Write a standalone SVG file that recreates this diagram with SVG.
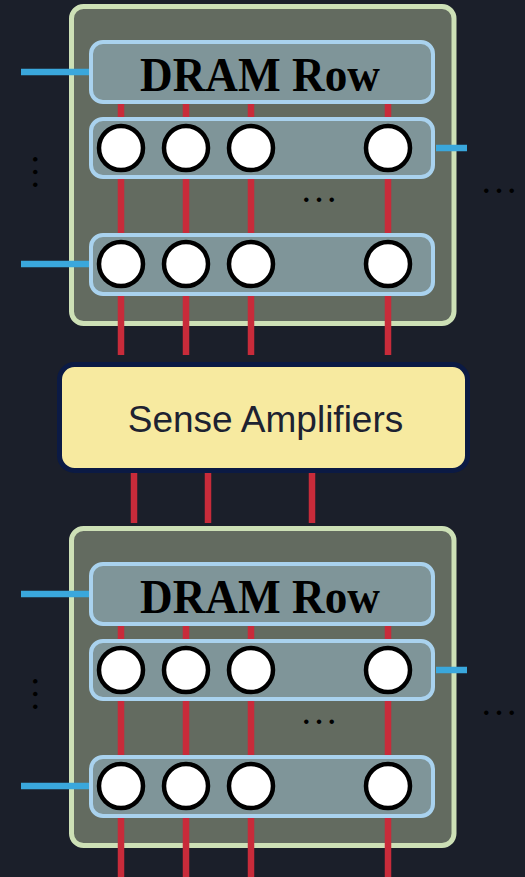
<svg xmlns="http://www.w3.org/2000/svg" width="525" height="877" viewBox="0 0 525 877">
  <style>
    .bank { fill: #636b60; stroke: #cde0b6; stroke-width: 5; }
    .rowbox { fill: #7f9599; stroke: #a9d2ee; stroke-width: 4; }
    .cell { fill: #ffffff; stroke: #000000; stroke-width: 4.5; }
    .bit { stroke: #c82b3a; stroke-width: 6.5; fill: none; }
    .word { stroke: #3aa7dc; stroke-width: 6.5; fill: none; }
    .title { font-family: "Liberation Serif", "Times New Roman", serif; font-weight: bold; font-size: 49px; fill: #000000; }
    .sa-box { fill: #f7eaa0; stroke: #0b1a44; stroke-width: 5; }
    .sa-text { font-family: "Liberation Sans", Arial, sans-serif; font-size: 37px; fill: #1d2231; }
    .dots { font-family: "Liberation Serif", "Times New Roman", serif; font-size: 38px; fill: #000000; }
  </style>
  <rect x="0" y="0" width="525" height="877" fill="#1b1f2a"/>

  <!-- bank outer boxes -->
  <g id="bank-top">
    <rect class="bank" x="71.5" y="6.5" width="382.5" height="317" rx="12"/>
  </g>
  <g id="bank-bottom">
    <rect class="bank" x="71.5" y="528.5" width="382.5" height="317" rx="12"/>
  </g>

  <!-- connectors -->
  <g id="connectors">
    <!-- top bank bitlines -->
    <line class="bit" x1="121" y1="100" x2="121" y2="355"/>
    <line class="bit" x1="186" y1="100" x2="186" y2="355"/>
    <line class="bit" x1="251" y1="100" x2="251" y2="355"/>
    <line class="bit" x1="388" y1="100" x2="388" y2="355"/>
    <!-- sense amp to bottom bank -->
    <line class="bit" x1="134" y1="470" x2="134" y2="523"/>
    <line class="bit" x1="208" y1="470" x2="208" y2="523"/>
    <line class="bit" x1="312" y1="470" x2="312" y2="523"/>
    <!-- bottom bank bitlines -->
    <line class="bit" x1="121" y1="622" x2="121" y2="877"/>
    <line class="bit" x1="186" y1="622" x2="186" y2="877"/>
    <line class="bit" x1="251" y1="622" x2="251" y2="877"/>
    <line class="bit" x1="388" y1="622" x2="388" y2="877"/>
    <!-- wordlines top -->
    <line class="word" x1="21" y1="72" x2="90" y2="72"/>
    <line class="word" x1="436" y1="148" x2="467" y2="148"/>
    <line class="word" x1="21" y1="264" x2="90" y2="264"/>
    <!-- wordlines bottom -->
    <line class="word" x1="21" y1="594" x2="90" y2="594"/>
    <line class="word" x1="436" y1="670" x2="467" y2="670"/>
    <line class="word" x1="21" y1="786" x2="90" y2="786"/>
  </g>

  <!-- top bank contents -->
  <g id="top-dram-row">
    <rect class="rowbox" x="91" y="42" width="342" height="60" rx="12"/>
    <text class="title" x="260" y="91" text-anchor="middle" textLength="240" lengthAdjust="spacingAndGlyphs">DRAM Row</text>
  </g>
  <g id="top-row-1">
    <rect class="rowbox" x="91" y="119" width="342" height="58" rx="12"/>
    <circle class="cell" cx="121" cy="148" r="22"/>
    <circle class="cell" cx="186" cy="148" r="22"/>
    <circle class="cell" cx="251" cy="148" r="22"/>
    <circle class="cell" cx="388" cy="148" r="22"/>
  </g>
  <g id="top-row-2">
    <rect class="rowbox" x="91" y="235" width="342" height="59" rx="12"/>
    <circle class="cell" cx="121" cy="264" r="22"/>
    <circle class="cell" cx="186" cy="264" r="22"/>
    <circle class="cell" cx="251" cy="264" r="22"/>
    <circle class="cell" cx="388" cy="264" r="22"/>
  </g>
  <text class="dots" x="319" y="202" text-anchor="middle">…</text>
  <text class="dots" x="499" y="193" text-anchor="middle">…</text>
  <text class="dots" x="0" y="0" text-anchor="middle" transform="translate(33 172) rotate(90)">…</text>

  <!-- sense amplifiers -->
  <g id="sense-amplifiers">
    <rect class="sa-box" x="59.5" y="364.5" width="408" height="106" rx="15"/>
    <text class="sa-text" x="265.5" y="432" text-anchor="middle">Sense Amplifiers</text>
  </g>

  <!-- bottom bank contents -->
  <g id="bottom-dram-row">
    <rect class="rowbox" x="91" y="564" width="342" height="60" rx="12"/>
    <text class="title" x="260" y="613" text-anchor="middle" textLength="240" lengthAdjust="spacingAndGlyphs">DRAM Row</text>
  </g>
  <g id="bottom-row-1">
    <rect class="rowbox" x="91" y="641" width="342" height="58" rx="12"/>
    <circle class="cell" cx="121" cy="670" r="22"/>
    <circle class="cell" cx="186" cy="670" r="22"/>
    <circle class="cell" cx="251" cy="670" r="22"/>
    <circle class="cell" cx="388" cy="670" r="22"/>
  </g>
  <g id="bottom-row-2">
    <rect class="rowbox" x="91" y="757" width="342" height="59" rx="12"/>
    <circle class="cell" cx="121" cy="786" r="22"/>
    <circle class="cell" cx="186" cy="786" r="22"/>
    <circle class="cell" cx="251" cy="786" r="22"/>
    <circle class="cell" cx="388" cy="786" r="22"/>
  </g>
  <text class="dots" x="319" y="724" text-anchor="middle">…</text>
  <text class="dots" x="499" y="715" text-anchor="middle">…</text>
  <text class="dots" x="0" y="0" text-anchor="middle" transform="translate(33 694) rotate(90)">…</text>
</svg>
